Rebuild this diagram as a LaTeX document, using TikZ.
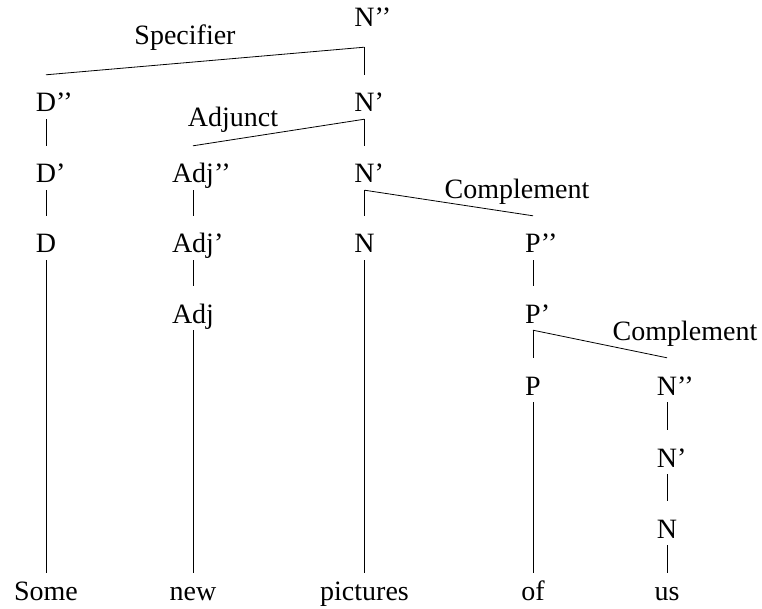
\documentclass[tikz,border=0pt]{standalone}
\usepackage{fontspec}
\setmainfont{Liberation Serif}
\usetikzlibrary{
  positioning
}

\tikzset{
  cat/.style={inner sep=0pt, anchor=base, text height=37pt, text depth=7pt,
    font=\fontsize{28}{32}\selectfont},
  topcat/.style={cat, text depth=20pt},
  word/.style={inner sep=0pt, anchor=base, text height=27pt, text depth=6pt,
    font=\fontsize{28}{32}\selectfont},
  role/.style={inner sep=0pt, anchor=base, font=\fontsize{28}{32}\selectfont},
  branch/.style={line width=0.8pt}
}

\begin{document}
\begin{tikzpicture}[x=1pt, y=-1pt]
  \def\Xd{46};
  \def\Xadj{193};
  \def\Xn{364.5};
  \def\Xp{533};
  \def\Xm{667};
  \def\Ya{27};
  \def\Yb{112};
  \def\Yc{183};
  \def\Yd{253};
  \def\Ye{323};
  \def\Yf{395};
  \def\Yg{467};
  \def\Yh{538};
  \def\Yw{600};
  \useasboundingbox (0,0) rectangle (762,609);

        % category nodes (primes hang to the right of the head letter)
        \node [topcat] (NPtop) at (\Xn, \Ya) {N\rlap{’’}};
        \node [cat] (DP)    at (\Xd, \Yb)   {D\rlap{’’}};
        \node [cat] (Nbara) at (\Xn, \Yb)   {N\rlap{’}};
        \node [cat] (Dbar)  at (\Xd, \Yc)   {D\rlap{’}};
        \node [cat] (AdjP)  at (\Xadj, \Yc) {Adj\rlap{’’}};
        \node [cat] (Nbarb) at (\Xn, \Yc)   {N\rlap{’}};
        \node [cat] (Dhead) at (\Xd, \Yd)   {D};
        \node [cat] (Adjbar) at (\Xadj, \Yd) {Adj\rlap{’}};
        \node [cat] (Nhead) at (\Xn, \Yd)   {N};
        \node [cat] (PP)    at (\Xp, \Yd)   {P\rlap{’’}};
        \node [cat] (Adjhead) at (\Xadj, \Ye) {Adj};
        \node [cat] (Pbar)  at (\Xp, \Ye)   {P\rlap{’}};
        \node [cat] (Phead) at (\Xp, \Yf)   {P};
        \node [cat] (NPlow) at (\Xm, \Yf)   {N\rlap{’’}};
        \node [cat] (Nbarc) at (\Xm, \Yg)   {N\rlap{’}};
        \node [cat] (Nlow)  at (\Xm, \Yh)   {N};

        % words
        \node [word] (wsome) at (\Xd, \Yw)   {Some};
        \node [word] (wnew)  at (\Xadj, \Yw) {new};
        \node [word] (wpic)  at (\Xn, \Yw)   {pictures};
        \node [word] (wof)   at (\Xp, \Yw)   {of};
        \node [word] (wus)   at (\Xm, \Yw)   {us};

        % role labels
        \node [role] (lspec) at (185, 45)  {Specifier};
        \node [role] (ladj)  at (233, 127) {Adjunct};
        \node [role] (lcompa) at (517, 199) {Complement};
        \node [role] (lcompb) at (685, 340) {Complement};

	\draw [branch] (NPtop.south) -- (Nbara.north);
	\draw [branch] (NPtop.south) -- (DP.north);      % specifier
	\draw [branch] (DP.south) -- (Dbar.north);
	\draw [branch] (Dbar.south) -- (Dhead.north);
	\draw [branch] (Dhead.south) -- (wsome.north);

	\draw [branch] (Nbara.south) -- (Nbarb.north);
	\draw [branch] (Nbara.south) -- (AdjP.north);    % adjunct
	\draw [branch] (AdjP.south) -- (Adjbar.north);
	\draw [branch] (Adjbar.south) -- (Adjhead.north);
	\draw [branch] (Adjhead.south) -- (wnew.north);

	\draw [branch] (Nbarb.south) -- (Nhead.north);
	\draw [branch] (Nbarb.south) -- (PP.north);      % complement of N
	\draw [branch] (Nhead.south) -- (wpic.north);

	\draw [branch] (PP.south) -- (Pbar.north);
	\draw [branch] (Pbar.south) -- (Phead.north);
	\draw [branch] (Pbar.south) -- (NPlow.north);    % complement of P
	\draw [branch] (Phead.south) -- (wof.north);

	\draw [branch] (NPlow.south) -- (Nbarc.north);
	\draw [branch] (Nbarc.south) -- (Nlow.north);
	\draw [branch] (Nlow.south) -- (wus.north);

\end{tikzpicture}
\end{document}
